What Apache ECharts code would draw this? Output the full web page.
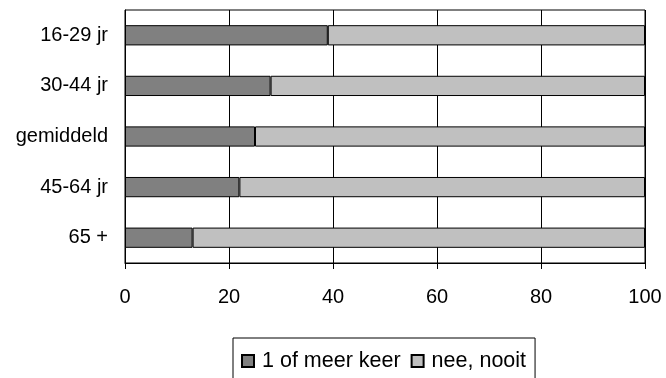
<!DOCTYPE html>
<html>
<head>
<meta charset="utf-8">
<script src="https://cdn.jsdelivr.net/npm/echarts@6/dist/echarts.min.js"></script>
<style>
  html, body { margin: 0; padding: 0; background: #fff; }
  #chart { width: 666px; height: 378px; }
</style>
</head>
<body>
<div id="chart"></div>
<script>
// categories top to bottom
const categories = ['16-29 jr', '30-44 jr', 'gemiddeld', '45-64 jr', '65 +'];
const meerKeer = [39, 28, 25, 22, 13];
const neeNooit = [61, 72, 75, 78, 87];
const xTicks = [0, 20, 40, 60, 80, 100];

const font = 'Liberation Sans, Arial, sans-serif';
let chart = echarts.init(document.getElementById('chart'));

let option = {
    animation: false,
    grid: {
        left: 125, right: 21, top: 10, bottom: 115,
        show: true, borderColor: '#000', borderWidth: 1
    },
    legend: {
        left: 233, top: 338,
        padding: [12, 9, 30, 8],
        borderColor: '#000', borderWidth: 1,
        itemWidth: 12, itemHeight: 12, itemGap: 10,
        textStyle: { fontFamily: font, fontSize: 21.5, color: '#000', padding: [0, 0, 0, 3] },
        data: [
            { name: '1 of meer keer', icon: 'rect' },
            { name: 'nee, nooit', icon: 'rect' }
        ]
    },
    xAxis: {
        type: 'value',
        min: xTicks[0], max: xTicks[xTicks.length - 1], interval: 20,
        axisLine: { show: true, lineStyle: { color: '#000' } },
        axisTick: { show: true, length: 6, lineStyle: { color: '#000' } },
        axisLabel: { margin: 24, fontFamily: font, fontSize: 20, color: '#000' },
        splitLine: { show: true, lineStyle: { color: '#000' } }
    },
    yAxis: {
        type: 'category',
        inverse: true,
        data: categories,
        axisLine: { show: true, lineStyle: { color: '#000' } },
        axisTick: { show: false },
        axisLabel: { margin: 17, fontFamily: font, fontSize: 20, color: '#000' }
    },
    series: [
        {
            name: '1 of meer keer', type: 'bar', stack: 'tot',
            barWidth: '40%',
            itemStyle: { color: '#808080', borderColor: '#000', borderWidth: 1 },
            data: meerKeer
        },
        {
            name: 'nee, nooit', type: 'bar', stack: 'tot',
            barWidth: '40%',
            itemStyle: { color: '#c0c0c0', borderColor: '#000', borderWidth: 1 },
            data: neeNooit
        }
    ]
};
chart.setOption(option);
</script>
</body>
</html>
